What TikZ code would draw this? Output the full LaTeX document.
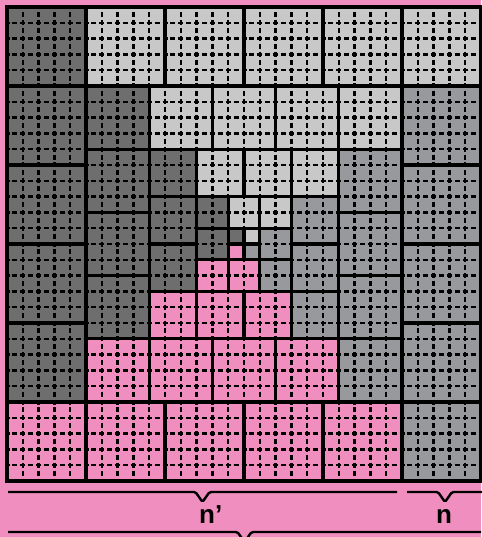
\documentclass[tikz,border=0pt]{standalone}
\usepackage{fontspec}
\setsansfont{Liberation Sans}
\usepackage{tikz}
\usetikzlibrary{calc}
\pgfdeclarelayer{edges}
\pgfsetlayers{main,edges}
\definecolor{pinkbg}{RGB}{240,142,192}
\definecolor{darkblk}{RGB}{110,110,110}
\definecolor{midblk}{RGB}{152,153,156}
\definecolor{lightblk}{RGB}{200,200,200}

\begin{document}
\begin{tikzpicture}[x=1pt,y=-1pt,
	subgrid/.style={line width=2.3pt, dash pattern=on 5pt off 2.9pt, dash phase=2.5pt},
	blockedge/.style={line width=3.2pt, line cap=rect},
	braceline/.style={line width=2.4pt, rounded corners=1.5pt},
	sizelabel/.style={font=\sffamily\bfseries\fontsize{26}{26}\selectfont, inner sep=0pt}]
	\newcommand{\pinblock}[4]{% column, row, size, colour
		\fill[#4] (#1,#2) rectangle ++(#3,#3);
		\pgfmathtruncatemacro{\lastline}{#3-1}
		\ifnum\lastline>0
		\foreach \k in {1,...,\lastline}
		{
			\draw[subgrid] (#1+\k,#2) -- ++(0,#3);
			\draw[subgrid] (#1,#2+\k) -- ++(#3,0);
		}
		\fi
		\begin{pgfonlayer}{edges}
			\draw[blockedge] (#1,#2) rectangle ++(#3,#3);
		\end{pgfonlayer}
	}
	\newcommand{\flatbrace}[2]{% left end, right end
		\draw[braceline] (#1) -- ($(#1)!0.5!(#2)+(-7,0)$) -- ($(#1)!0.5!(#2)+(0,10)$)
			-- ($(#1)!0.5!(#2)+(7,0)$) -- (#2);
	}
	\useasboundingbox (0,0) rectangle (481,537);
	\fill[pinkbg] (0,0) rectangle (481,537);
	% nested rings: block size / offset (in cells)
	\begin{scope}[shift={(7,7)}, x=15.8pt, y=-15.8pt]
		\foreach \b/\o in {5/0, 4/5, 3/9, 2/12, 1/14}
		{
			\pgfmathtruncatemacro{\s}{\b*(\b+1)}
			\pgfmathtruncatemacro{\nlast}{\b-1}
			\foreach \i in {0,...,\nlast}
			{
				\pinblock{\o+\b+\i*\b}{\o}{\b}{lightblk}
				\pinblock{\o}{\o+\i*\b}{\b}{darkblk}
				\pinblock{\o+\i*\b}{\o+\s-\b}{\b}{pinkbg}
				\pinblock{\o+\s-\b}{\o+\b+\i*\b}{\b}{midblk}
			}
		}
	\end{scope}
	\coordinate (npl) at (8,492);
	\coordinate (npr) at (397,492);
	\coordinate (nl) at (407,492);
	\coordinate (nr) at (483,492);
	\coordinate (totl) at (8,532);
	\coordinate (totr) at (481,532);
	\flatbrace{npl}{npr}
	\flatbrace{nl}{nr}
	\flatbrace{totl}{totr}
	\node[sizelabel, anchor=base west] (nprime) at (199,523) {n’};
	\node[sizelabel, anchor=base] (nlab) at (444,523) {n};
\end{tikzpicture}
\end{document}
